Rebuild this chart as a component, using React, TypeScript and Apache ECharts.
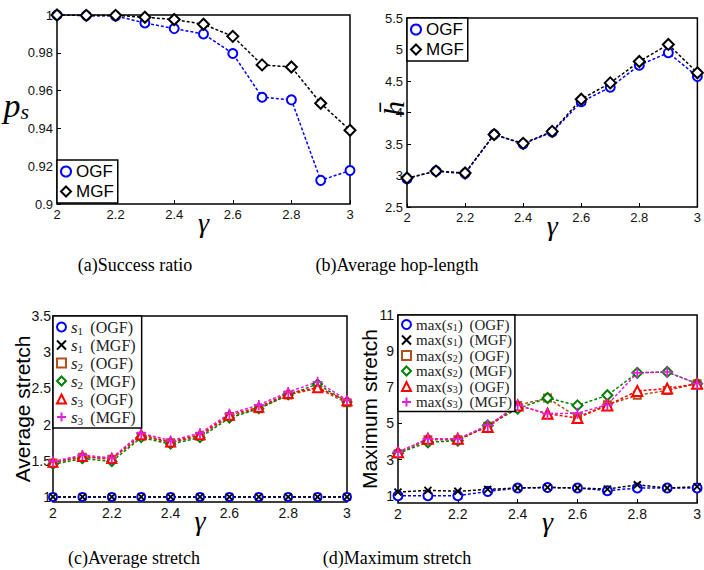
import React, { useEffect, useRef } from 'react';
import * as echarts from 'echarts';

// ---------- data ----------
const gamma = [2, 2.1, 2.2, 2.3, 2.4, 2.5, 2.6, 2.7, 2.8, 2.9, 3];

// (a) success ratio
const psOGF = [1.0, 0.9997, 0.9995, 0.9958, 0.9928, 0.99, 0.9796, 0.9565, 0.9551, 0.9125, 0.9177];
const psMGF = [1.0, 0.9998, 0.9998, 0.9988, 0.9976, 0.9951, 0.9887, 0.9736, 0.9725, 0.9533, 0.939];

// (b) average hop-length
const hopOGF = [2.95, 3.07, 3.03, 3.65, 3.5, 3.69, 4.17, 4.4, 4.75, 4.95, 4.57];
const hopMGF = [2.96, 3.07, 3.04, 3.65, 3.51, 3.7, 4.21, 4.47, 4.81, 5.08, 4.63];

// (c) average stretch
const s1OGF = [1, 1, 1, 1, 1, 1, 1, 1, 1, 1, 1];
const s1MGF = [1, 1, 1, 1, 1, 1, 1, 1, 1, 1, 1];
const s2OGF = [1.47, 1.55, 1.52, 1.84, 1.75, 1.84, 2.11, 2.22, 2.41, 2.5, 2.3];
const s2MGF = [1.45, 1.53, 1.49, 1.82, 1.73, 1.82, 2.09, 2.22, 2.41, 2.56, 2.31];
const s3OGF = [1.48, 1.56, 1.53, 1.86, 1.76, 1.86, 2.13, 2.24, 2.43, 2.51, 2.33];
const s3MGF = [1.49, 1.58, 1.54, 1.88, 1.78, 1.88, 2.15, 2.27, 2.45, 2.59, 2.34];

// (d) maximum stretch
const m1OGF = [1.0, 1.0, 1.0, 1.24, 1.43, 1.46, 1.43, 1.28, 1.43, 1.43, 1.43];
const m1MGF = [1.2, 1.3, 1.25, 1.35, 1.43, 1.46, 1.43, 1.37, 1.61, 1.43, 1.5];
const m2OGF = [3.32, 4.1, 4.1, 4.85, 6.0, 6.41, 5.35, 6.04, 6.56, 6.83, 7.2];
const m2MGF = [3.35, 3.96, 4.05, 4.89, 5.82, 6.41, 6.0, 6.56, 7.8, 7.85, 7.2];
const m3OGF = [3.41, 4.15, 4.15, 4.8, 6.0, 5.54, 5.3, 6.0, 6.8, 6.93, 7.2];
const m3MGF = [3.41, 4.15, 4.15, 4.89, 6.0, 5.54, 5.57, 6.04, 7.8, 7.85, 7.2];

// tick labels
const xTicks = { min: 2, max: 3, interval: 0.2 };
const cTicks = [1, 1.5, 2, 2.5, 3, 3.5];
const dTicks = [1, 3, 5, 7, 9, 11];

const captions = ['(a)Success ratio', '(b)Average hop-length', '(c)Average stretch', '(d)Maximum stretch'];

// ---------- styles ----------
const BLUE = '#0000ff';
const BLACK = '#000000';
const BROWN = '#b5501c';
const GREEN = '#008000';
const RED = '#ff0000';
const MAGENTA = '#dd22dd';
const CROSS = 'path://M0,0L10,10M10,0L0,10';
const PLUS = 'path://M5,0L5,10M0,5L10,5';
const SANS = '"Liberation Sans", Arial, sans-serif';
const SERIF = '"Liberation Serif", "Times New Roman", serif';

const grids = [
  { left: 57, top: 15, width: 293, height: 189 },
  { left: 407, top: 18, width: 293, height: 189 },
  { left: 53, top: 316, width: 294, height: 186 },
  { left: 398, top: 315, width: 303, height: 188 },
];

function line(name: string, ys: number[], g: number, symbol: string, color: string, size: number) {
  const filled = symbol.startsWith('path://');
  return {
    type: 'line',
    name,
    xAxisIndex: g,
    yAxisIndex: g,
    data: gamma.map((x, i) => [x, ys[i]]),
    symbol,
    symbolSize: size,
    showAllSymbol: true,
    lineStyle: { color, width: 1.5, type: [3, 2] },
    itemStyle: { color, borderColor: color, borderWidth: filled ? 1.8 : 1.6 },
    emphasis: { disabled: true },
  };
}

function xAxis(g: number, fs: number) {
  return {
    type: 'value',
    gridIndex: g,
    ...xTicks,
    name: 'γ',
    nameLocation: 'middle',
    nameGap: 4,
    nameMoveOverlap: false,
    nameTextStyle: { fontFamily: SERIF, fontStyle: 'italic', fontSize: 28, color: '#000', verticalAlign: 'top' },
    axisLine: { show: false },
    axisTick: { show: true, inside: true, length: 4, lineStyle: { color: '#000', width: 1 } },
    axisLabel: { fontFamily: SANS, fontSize: fs, color: '#111', margin: 4 },
    splitLine: { show: false },
  };
}

const legendBase = {
  orient: 'vertical',
  backgroundColor: '#fff',
  borderColor: '#000',
  borderWidth: 1.5,
  borderRadius: 0,
  selectedMode: false,
};

const richC = {
  it: { fontFamily: SERIF, fontStyle: 'italic', fontSize: 17, color: '#222', lineHeight: 18 },
  sub: { fontFamily: SERIF, fontSize: 11, color: '#222', verticalAlign: 'bottom', lineHeight: 11 },
  rm: { fontFamily: SERIF, fontSize: 16, color: '#222', lineHeight: 18 },
};
const richD = {
  it: { fontFamily: SERIF, fontStyle: 'italic', fontSize: 15, color: '#222', lineHeight: 15 },
  sub: { fontFamily: SERIF, fontSize: 10, color: '#222', verticalAlign: 'bottom', lineHeight: 10 },
  rm: { fontFamily: SERIF, fontSize: 15, color: '#222', lineHeight: 15 },
};

const crossStyle = (c: string) => ({ color: c, borderColor: c, borderWidth: 2 });

const option: any = {
  animation: false,
  backgroundColor: '#fff',
  grid: grids.map((g) => ({ ...g, show: true, borderColor: '#000', borderWidth: 1.5, backgroundColor: 'transparent' })),
  xAxis: [xAxis(0, 13), xAxis(1, 13), xAxis(2, 14), xAxis(3, 14)],
  yAxis: [
    {
      type: 'value', gridIndex: 0, min: 0.9, max: 1.0, interval: 0.02,
      name: '{p|p}{s|s}', nameLocation: 'middle', nameRotate: 0, nameGap: 28, nameMoveOverlap: false,
      nameTextStyle: {
        padding: [0, 0, 8, 0],
        rich: {
          p: { fontFamily: SERIF, fontStyle: 'italic', fontSize: 34, color: '#000', lineHeight: 34 },
          s: { fontFamily: SERIF, fontStyle: 'italic', fontSize: 22, color: '#000', verticalAlign: 'bottom', lineHeight: 22 },
        },
      },
      axisLine: { show: false },
      axisTick: { show: true, inside: true, length: 4, lineStyle: { color: '#000' } },
      axisLabel: { fontFamily: SANS, fontSize: 13, color: '#111', margin: 4 },
      splitLine: { show: false },
    },
    {
      type: 'value', gridIndex: 1, min: 2.5, max: 5.5, interval: 0.5,
      name: 'h\u0304', nameLocation: 'middle', nameGap: -1, nameMoveOverlap: false,
      nameTextStyle: { fontFamily: SERIF, fontStyle: 'italic', fontSize: 30, color: '#000', padding: [0, 0, 0, 8] },
      axisLine: { show: false },
      axisTick: { show: true, inside: true, length: 4, lineStyle: { color: '#000' } },
      axisLabel: { fontFamily: SANS, fontSize: 13, color: '#111', margin: 4 },
      splitLine: { show: false },
    },
    {
      type: 'value', gridIndex: 2, min: 0.93, max: 3.5,
      name: 'Average stretch', nameLocation: 'middle', nameGap: 20, nameMoveOverlap: false,
      nameTextStyle: { fontFamily: SANS, fontSize: 21, color: '#000' },
      axisLine: { show: false },
      axisTick: { show: true, inside: true, length: 4, lineStyle: { color: '#000' }, customValues: cTicks },
      axisLabel: { fontFamily: SANS, fontSize: 14, color: '#111', margin: 2, customValues: cTicks },
      splitLine: { show: false },
    },
    {
      type: 'value', gridIndex: 3, min: 0.6, max: 11,
      name: 'Maximum stretch', nameLocation: 'middle', nameGap: 18, nameMoveOverlap: false,
      nameTextStyle: { fontFamily: SANS, fontSize: 21, color: '#000' },
      axisLine: { show: false },
      axisTick: { show: true, inside: true, length: 4, lineStyle: { color: '#000' }, customValues: dTicks },
      axisLabel: { fontFamily: SANS, fontSize: 14, color: '#111', margin: 4, customValues: dTicks },
      splitLine: { show: false },
    },
  ],
  legend: [
    {
      ...legendBase, left: 57, top: 160, padding: [3, 4, 3, 3], itemGap: 3, itemWidth: 10, itemHeight: 10,
      data: [{ name: 'a-OGF', icon: 'emptyCircle' }, { name: 'a-MGF', icon: 'emptyDiamond' }],
      formatter: (n: string) => n.slice(2),
      textStyle: { fontFamily: SANS, fontSize: 17, color: '#000', lineHeight: 17 },
    },
    {
      ...legendBase, left: 407, top: 18, padding: [3, 4, 3, 3], itemGap: 3, itemWidth: 10, itemHeight: 10,
      data: [{ name: 'b-OGF', icon: 'emptyCircle' }, { name: 'b-MGF', icon: 'emptyDiamond' }],
      formatter: (n: string) => n.slice(2),
      textStyle: { fontFamily: SANS, fontSize: 17, color: '#000', lineHeight: 17 },
    },
    {
      ...legendBase, left: 53, top: 316, padding: [2, 6, 2, 3], itemGap: 0, itemWidth: 9, itemHeight: 9,
      data: [
        { name: 'c-s1-OGF', icon: 'emptyCircle' },
        { name: 'c-s1-MGF', icon: CROSS, itemStyle: crossStyle(BLACK) },
        { name: 'c-s2-OGF', icon: 'emptyRect' },
        { name: 'c-s2-MGF', icon: 'emptyDiamond' },
        { name: 'c-s3-OGF', icon: 'emptyTriangle' },
        { name: 'c-s3-MGF', icon: PLUS, itemStyle: crossStyle(MAGENTA) },
      ],
      formatter: (n: string) => {
        const p = n.split('-');
        return `{it|s}{sub|${p[1].slice(1)}}{rm| \u2009(${p[2]})}`;
      },
      textStyle: { lineHeight: 18, rich: richC },
    },
    {
      ...legendBase, left: 398, top: 315, padding: [2, 3, 2, 3], itemGap: 0.5, itemWidth: 9, itemHeight: 9,
      data: [
        { name: 'd-s1-OGF', icon: 'emptyCircle' },
        { name: 'd-s1-MGF', icon: CROSS, itemStyle: crossStyle(BLACK) },
        { name: 'd-s2-OGF', icon: 'emptyRect' },
        { name: 'd-s2-MGF', icon: 'emptyDiamond' },
        { name: 'd-s3-OGF', icon: 'emptyTriangle' },
        { name: 'd-s3-MGF', icon: PLUS, itemStyle: crossStyle(MAGENTA) },
      ],
      formatter: (n: string) => {
        const p = n.split('-');
        return `{rm|max(}{it|s}{sub|${p[1].slice(1)}}{rm|) \u2009(${p[2]})}`;
      },
      textStyle: { rich: richD },
    },
  ],
  graphic: [
    { type: 'text', x: 135, y: 265, style: { text: captions[0], fontFamily: SERIF, fontSize: 18, fill: '#000', align: 'center', verticalAlign: 'middle' } },
    { type: 'text', x: 397, y: 265, style: { text: captions[1], fontFamily: SERIF, fontSize: 18, fill: '#000', align: 'center', verticalAlign: 'middle' } },
    { type: 'text', x: 134, y: 558, style: { text: captions[2], fontFamily: SERIF, fontSize: 18, fill: '#000', align: 'center', verticalAlign: 'middle' } },
    { type: 'text', x: 397, y: 558, style: { text: captions[3], fontFamily: SERIF, fontSize: 18, fill: '#000', align: 'center', verticalAlign: 'middle' } },
  ],
  series: [
    line('a-OGF', psOGF, 0, 'emptyCircle', BLUE, 9),
    line('a-MGF', psMGF, 0, 'emptyDiamond', BLACK, 11),
    line('b-OGF', hopOGF, 1, 'emptyCircle', BLUE, 9),
    line('b-MGF', hopMGF, 1, 'emptyDiamond', BLACK, 11),
    line('c-s1-OGF', s1OGF, 2, 'emptyCircle', BLUE, 8),
    line('c-s1-MGF', s1MGF, 2, CROSS, BLACK, 7),
    line('c-s2-OGF', s2OGF, 2, 'emptyRect', BROWN, 7),
    line('c-s2-MGF', s2MGF, 2, 'emptyDiamond', GREEN, 9),
    line('c-s3-OGF', s3OGF, 2, 'emptyTriangle', RED, 9),
    line('c-s3-MGF', s3MGF, 2, PLUS, MAGENTA, 10),
    line('d-s1-OGF', m1OGF, 3, 'emptyCircle', BLUE, 9),
    line('d-s1-MGF', m1MGF, 3, CROSS, BLACK, 7),
    line('d-s2-OGF', m2OGF, 3, 'emptyRect', BROWN, 7),
    line('d-s2-MGF', m2MGF, 3, 'emptyDiamond', GREEN, 10),
    line('d-s3-OGF', m3OGF, 3, 'emptyTriangle', RED, 10),
    line('d-s3-MGF', m3MGF, 3, PLUS, MAGENTA, 11),
  ],
};

export default function App() {
  const ref = useRef<HTMLDivElement>(null);
  useEffect(() => {
    const chart = echarts.init(ref.current!, null, { renderer: 'svg' });
    chart.setOption(option);
    return () => chart.dispose();
  }, []);
  return (
    <div
      ref={ref}
      style={{ position: 'absolute', left: 0, top: 0, width: 704, height: 570, background: '#fff' }}
    />
  );
}
